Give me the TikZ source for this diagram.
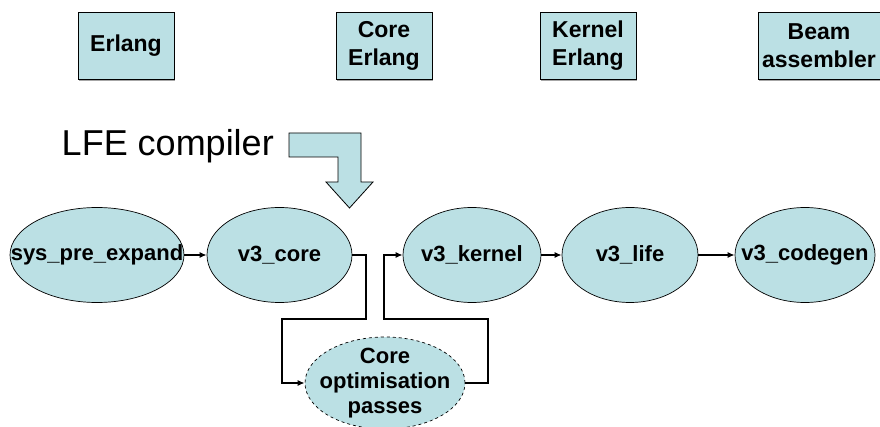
\documentclass[tikz,border=0pt]{standalone}
\usepackage{fontspec}
\setmainfont{Liberation Sans}
\usetikzlibrary{arrows.meta,shapes.geometric}
\definecolor{pblue}{RGB}{187,224,228}
\begin{document}
\begin{tikzpicture}[x=1pt,y=-1pt,
  box/.style={draw=black,line width=0.8pt,fill=pblue,minimum width=96pt,minimum height=67pt,inner sep=0pt,
    font=\fontsize{23}{28}\selectfont\bfseries,align=center},
  ell/.style={ellipse,draw=black,line width=0.7pt,fill=pblue,inner sep=0pt,minimum height=95pt},
  lbl/.style={font=\fontsize{22}{25}\selectfont\bfseries,align=center,inner sep=0pt},
  arr/.style={line width=1.8pt,-{Latex[length=7pt,width=6pt]}},
  bshadow/.style={fill=gray!70,draw=none}
]
\useasboundingbox (0,0) rectangle (880,427);
\fill[white] (0,0) rectangle (880,427);
% top boxes
\fill[bshadow] (79,14) rectangle (175,81);
\node[box] (erl) at (126,45.5) {Erlang};
\fill[bshadow] (337,14) rectangle (433,81);
\node[box] (cerl) at (384,45.5) {Core\\Erlang};
\fill[bshadow] (541,14) rectangle (637,81);
\node[box] (kerl) at (588,45.5) {Kernel\\Erlang};
\fill[bshadow] (759,14) rectangle (881,81);
\node[box,minimum width=122pt] (beam) at (819,45.5) {Beam\\assembler};
% LFE compiler
\node[font=\fontsize{36}{40}\selectfont,anchor=east,inner sep=0pt] (lfe) at (274,146) {LFE compiler};
\draw[fill=pblue,line width=0.8pt] (289,133) -- (361,133) -- (361,182) -- (373,182) -- (349.5,208)
  -- (326,182) -- (338,182) -- (338,157) -- (289,157) -- cycle;
% ellipses
\node[ell,minimum width=174pt] (sys) at (97,255) {};
\node[lbl] at (sys) {sys\_pre\_expand};
\node[ell,minimum width=145pt] (core) at (279.5,255) {};
\node[lbl] at (core) {v3\_core};
\node[ell,minimum width=138pt] (kern) at (472,255) {};
\node[lbl] at (kern) {v3\_kernel};
\node[ell,minimum width=136pt] (life) at (630,255) {};
\node[lbl] at (life) {v3\_life};
\node[ell,minimum width=140pt] (cgen) at (805,255) {};
\node[lbl] at (cgen) {v3\_codegen};
\node[ell,dashed,minimum width=160pt,minimum height=92pt] (opt) at (385,383) {};
\node[lbl] at (opt) {Core\\optimisation\\passes};
% connectors
\draw[arr] (sys.east) -- (core.west);
\draw[arr] (kern.east) -- (life.west);
\draw[arr] (life.east) -- (cgen.west);
\coordinate (a1) at (366,255);
\coordinate (a2) at (282,319);
\draw[arr] (core.east) -- (a1) |- (a2) |- (opt.west);
\coordinate (b1) at (488,383);
\coordinate (b2) at (384,319);
\draw[arr] (opt.east) -- (b1) |- (b2) |- (kern.west);
\end{tikzpicture}
\end{document}
